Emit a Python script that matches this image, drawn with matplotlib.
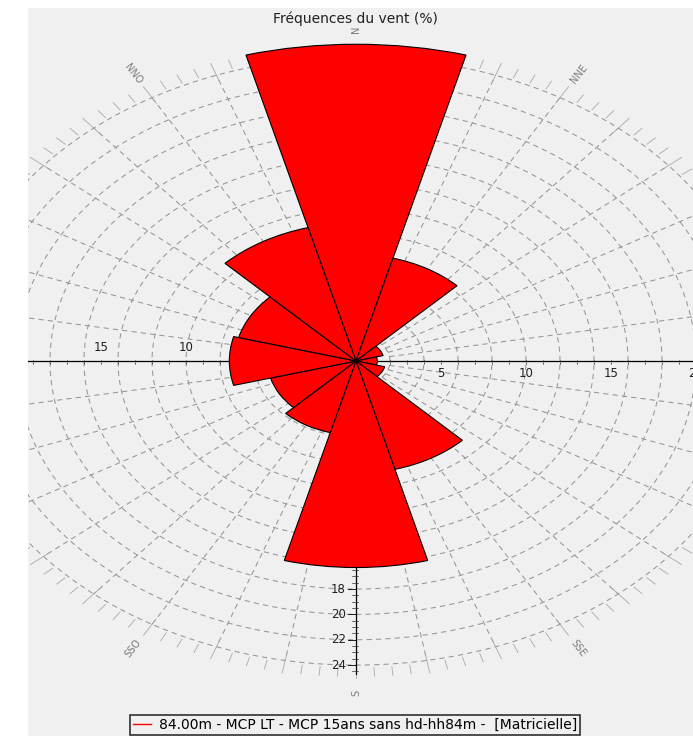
"""Rose des vents - fréquences par secteur"""

import numpy as np
import matplotlib
matplotlib.use("Agg")
import matplotlib.pyplot as plt
from matplotlib.lines import Line2D
from matplotlib.patches import Rectangle

plt.rcParams['font.family'] = ['DejaVu Sans']

# 12 secteurs de 30°, fréquences en %
secteurs = ['N', 'NNE', 'ENE', 'E', 'ESE', 'SSE', 'S', 'SSO', 'OSO', 'O', 'ONO', 'NNO']
directions = [0, 30, 60, 90, 120, 150, 180, 210, 240, 270, 300, 330]
frequences = [25.0, 8.4, 1.65, 1.25, 1.75, 8.85, 16.3, 5.85, 5.2, 7.45, 7.15, 10.9]

anneaux = [2, 4, 6, 8, 10, 12, 14, 16, 18, 20, 22, 24]
graduations_x = [5, 10, 15, 20]
graduations_sud = [2, 4, 6, 8, 10, 12, 14, 16, 18, 20, 22, 24]

titre = 'Fréquences du vent (%)'
legende = '84.00m - MCP LT - MCP 15ans sans hd-hh84m -  [Matricielle]'

FOND = '#f0f0f0'
GRIS = '#959595'
R = 27.0
SX, SY = 17.0, 12.67          # px par % (horizontal / vertical)
CX, CY = 356.0, 361.0         # centre en px
W, H = 693, 736


def xy(angle, r):
    """angle en degrés depuis le nord (sens horaire) -> coordonnées cartésiennes"""
    a = np.radians(angle)
    return r * np.sin(a), r * np.cos(a)


fig = plt.figure(figsize=(W / 100, H / 100), dpi=100, facecolor=FOND)
pos = [(CX - R * SX) / W, (H - CY - R * SY) / H, 2 * R * SX / W, 2 * R * SY / H]

# axes cartésiennes : grille, axes gradués, libellés
ax = fig.add_axes(pos, zorder=0)
ax.set_xlim(-R, R)
ax.set_ylim(-R, R)
ax.set_aspect('auto')
ax.axis('off')

t = np.linspace(0, 2 * np.pi, 721)
for r in anneaux:
    ax.plot(r * np.cos(t), r * np.sin(t), color=GRIS, lw=0.75,
            linestyle=(0, (5, 4)))
for a in range(0, 360, 10):
    x0, y0 = xy(a, 2)
    x1, y1 = xy(a, 24)
    ax.plot([x0, x1], [y0, y1], color=GRIS, lw=0.75, linestyle=(0, (5, 4)))

# petites graduations sur le cercle extérieur
for a in np.arange(0, 360, 2.5):
    if a % 10 == 0:
        r0, r1 = 23.5, 25.0
    else:
        r0, r1 = 24.2, 24.9
    x0, y0 = xy(a, r0)
    x1, y1 = xy(a, r1)
    ax.plot([x0, x1], [y0, y1], color='#a8a8a8', lw=0.6)

# axe horizontal
ax.plot([-R, R], [0, 0], color='black', lw=0.9)
for v in range(-26, 27):
    if v != 0:
        ax.plot([v, v], [-0.22, 0.08], color='#404040', lw=0.5)
for v in graduations_x:
    ax.text(v, -0.95, str(v), ha='center', va='center', fontsize=8.5, color='#202020')
    ax.text(-v, 1.1, str(v), ha='center', va='center', fontsize=8.5, color='#202020')

# axe sud
ax.plot([0, 0], [0, -24.7], color='black', lw=0.9)
for v in np.arange(0.5, 24.6, 0.5):
    if v % 2 == 0:
        ax.plot([-0.45, 0], [-v, -v], color='black', lw=0.6)
    else:
        ax.plot([-0.22, 0.1], [-v, -v], color='#303030', lw=0.5)
for v in graduations_sud:
    ax.text(-0.6, -v, str(v), ha='right', va='center', fontsize=8.5, color='#202020')

# libellés des directions (seulement ceux qui tombent dans la fenêtre)
for nom, a in zip(secteurs, directions):
    x, y = xy(a, 26.2)
    px = CX + x * SX
    if px < 40 or px > W - 10:
        continue
    rot = np.degrees(np.arctan2(np.cos(np.radians(a)) * SY, np.sin(np.radians(a)) * SX))
    if rot > 90:
        rot -= 180
    elif rot <= -90:
        rot += 180
    ax.text(x, y, nom, rotation=rot, rotation_mode='anchor', ha='center', va='center',
            fontsize=7, color='#7a7a7a')

# rose des vents
pax = fig.add_axes(pos, projection='polar', zorder=1)
pax.set_aspect('auto')
pax.set_facecolor('none')
pax.set_theta_zero_location('N')
pax.set_theta_direction(-1)
pax.bar(np.radians(directions), frequences, width=np.radians(30), bottom=0,
        color='#ff0000', edgecolor='black', linewidth=0.8, align='center')
pax.set_rlim(0, R)
pax.set_xticks([])
pax.set_yticks([])
pax.grid(False)
pax.spines['polar'].set_visible(False)

# marges blanches
fig.add_artist(Rectangle((0, 0), 28 / W, 1, transform=fig.transFigure,
                         facecolor='white', edgecolor='none', zorder=10))
fig.add_artist(Rectangle((0, 1 - 8 / H), 1, 8 / H, transform=fig.transFigure,
                         facecolor='white', edgecolor='none', zorder=10))

fig.text(355 / W, 1 - 19 / H, titre, ha='center', va='center', fontsize=10, color='#202020')

leg = fig.legend(handles=[Line2D([], [], color='red', lw=1)], labels=[legende],
                 loc='center', bbox_to_anchor=(355 / W, 1 - 725 / H),
                 frameon=True, fancybox=False, framealpha=1, facecolor=FOND,
                 edgecolor='#303030', fontsize=10, handlelength=1.3,
                 handletextpad=0.6, borderpad=0.2, borderaxespad=0)
leg.get_frame().set_linewidth(1.2)

plt.savefig('out.png', dpi=100, facecolor=FOND)
